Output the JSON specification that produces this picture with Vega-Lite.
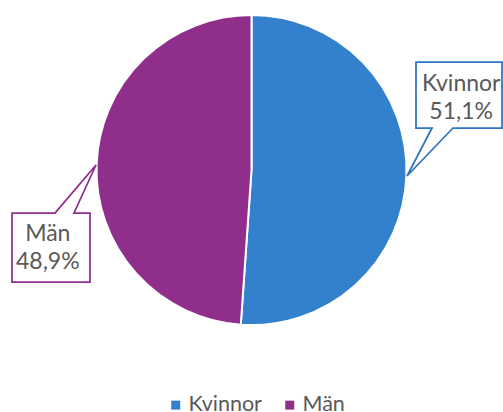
{
 "$schema": "https://vega.github.io/schema/vega-lite/v6.json",
 "width": 503,
 "height": 340,
 "autosize": {"type": "none"},
 "padding": {"left": 0, "top": 0, "right": 0, "bottom": 72},
 "background": "white",
 "config": {"view": {"stroke": null}, "font": "Lato"},
 "data": {"values": [{"kon": "Kvinnor", "andel": 51.1}, {"kon": "Män", "andel": 48.9}]},
 "layer": [
  {
   "mark": {"type": "arc", "outerRadius": 155, "stroke": "white", "strokeWidth": 2},
   "encoding": {
    "theta": {"field": "andel", "type": "quantitative", "stack": true},
    "order": {"field": "kon", "type": "nominal", "sort": "ascending"},
    "color": {
     "field": "kon", "type": "nominal",
     "scale": {"domain": ["Kvinnor", "Män"], "range": ["#3380CC", "#8F2F8B"]},
     "legend": {"title": null, "orient": "none", "legendX": 165, "legendY": 394, "direction": "horizontal", "symbolType": "square", "symbolSize": 81, "symbolStrokeWidth": 0, "labelFont": "Lato", "labelFontSize": 21.5, "labelColor": "#595959", "labelOffset": 2, "columnPadding": 17, "padding": 0}
    }
   }
  },
  {
   "transform": [{"filter": "datum.kon == 'Kvinnor'"}],
   "mark": {"type": "point", "shape": "M164.5,-108H250.5V-42H201.5L155.5,6L180.5,-42H164.5Z", "filled": false, "fill": "white", "fillOpacity": 1, "stroke": "#2E75C4", "strokeWidth": 1.75, "opacity": 1, "size": 4},
   "encoding": {}
  },
  {
   "transform": [{"filter": "datum.kon == 'Män'"}],
   "mark": {"type": "point", "shape": "M-239.5,43H-196.5L-155.5,-5L-177.5,43H-161.5V112H-239.5Z", "filled": false, "fill": "white", "fillOpacity": 1, "stroke": "#8E2F8C", "strokeWidth": 1.75, "opacity": 1, "size": 4},
   "encoding": {}
  },
  {
   "transform": [{"calculate": "datum.kon + '\\n' + replace(format(datum.andel, '.1f'), '.', ',') + '%'", "as": "etikett"}],
   "mark": {"type": "text", "radius": 220, "dx": 3, "dy": -11, "font": "Lato", "fontSize": 23, "color": "#595959", "lineHeight": 28, "lineBreak": "\n", "align": "center", "baseline": "middle"},
   "encoding": {
    "theta": {"field": "andel", "type": "quantitative", "stack": true, "scale": {"range": [-0.384, 5.899]}},
    "order": {"field": "kon", "type": "nominal", "sort": "ascending"},
    "detail": {"field": "kon", "type": "nominal"},
    "text": {"field": "etikett", "type": "nominal"}
   }
  }
 ],
 "resolve": {"scale": {"theta": "independent"}}
}
